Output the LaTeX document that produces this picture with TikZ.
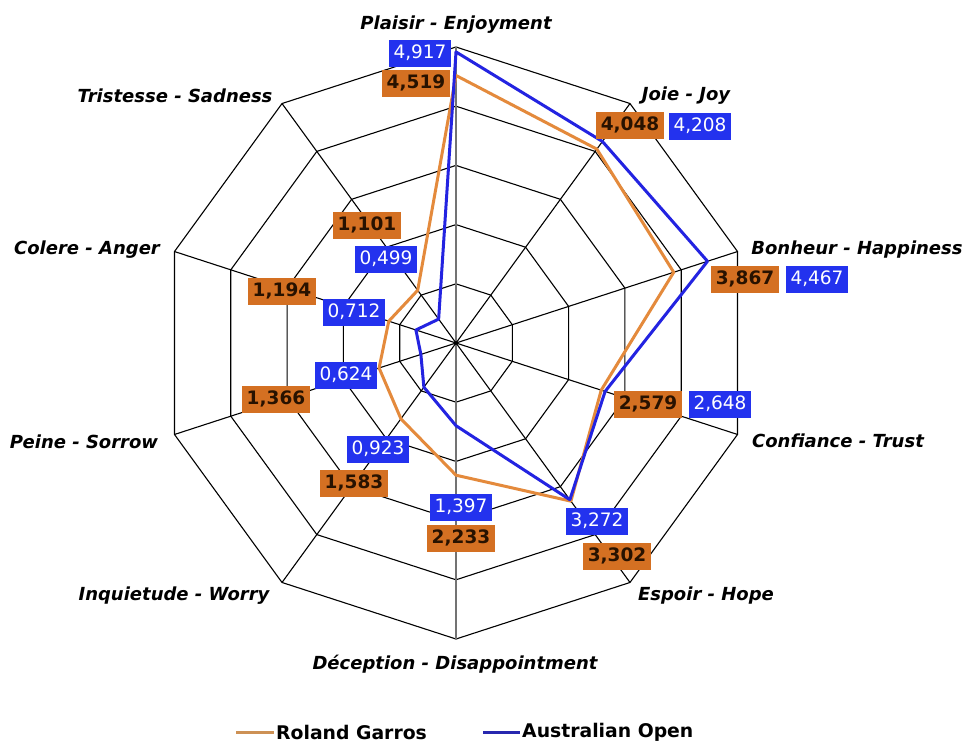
\documentclass[tikz,border=0pt]{standalone}
\usepackage{fontspec}
\setmainfont{DejaVu Sans}
\definecolor{rgline}{RGB}{228,138,60}
\definecolor{aoline}{RGB}{35,35,225}
\definecolor{rgfill}{RGB}{212,112,34}
\definecolor{aofill}{RGB}{35,50,238}
\definecolor{rgtext}{RGB}{40,18,0}
\definecolor{rglegend}{RGB}{205,145,85}
\definecolor{aolegend}{RGB}{40,40,175}
\tikzset{
  gridline/.style={black, line width=1.1pt},
  midaxis/.style={black!55, line width=1.8pt},
  rgseries/.style={rgline, line width=3pt, line join=round},
  aoseries/.style={aoline, line width=3pt, line join=round},
  catlabel/.style={font=\fontsize{18}{20}\selectfont\bfseries\itshape, inner sep=0pt},
  rgbox/.style={fill=rgfill, text=rgtext, font=\fontsize{18.5}{20}\selectfont\bfseries,
                minimum height=27pt, inner xsep=4.5pt, inner ysep=0pt},
  aobox/.style={fill=aofill, text=white, font=\fontsize{18.5}{20}\selectfont,
                minimum height=27pt, inner xsep=5pt, inner ysep=0pt},
  legtext/.style={font=\fontsize{18.8}{20}\selectfont\bfseries, inner sep=0pt, anchor=west}
}
\begin{document}
\begin{tikzpicture}[x=1pt,y=-1pt]
\useasboundingbox[fill=white] (0,0) rectangle (963,744);
\coordinate (O) at (456,343);
\begin{scope}[shift={(456,343)}]
  % spokes and rings of the web
  \foreach \k in {0,...,9} {
    \coordinate (ax\k) at (-90+36*\k:296);
  }
  \foreach \r in {1,...,5} {
    \draw[gridline] (-90:\r*59.2)
      \foreach \k in {1,...,9} { -- (-90+36*\k:\r*59.2) } -- cycle;
  }
  \foreach \k in {1,2,3,4,6,7,8,9} {
    \draw[gridline] (O) -- (ax\k);
  }
  \draw[midaxis] (ax0) -- (ax5);
  % series vertices
  \foreach \v [count=\k from 0] in {4.519,4.048,3.867,2.579,3.302,2.233,1.583,1.366,1.194,1.101} {
    \coordinate (rg\k) at (-90+36*\k:\v*59.2);
  }
  \foreach \v [count=\k from 0] in {4.917,4.208,4.467,2.648,3.272,1.397,0.923,0.624,0.712,0.499} {
    \coordinate (ao\k) at (-90+36*\k:\v*59.2);
  }
\end{scope}
\fill (O) circle (2pt);
\draw[rgseries] (rg0) -- (rg1) -- (rg2) -- (rg3) -- (rg4) -- (rg5) -- (rg6) -- (rg7) -- (rg8) -- (rg9) -- cycle;
\draw[aoseries] (ao0) -- (ao1) -- (ao2) -- (ao3) -- (ao4) -- (ao5) -- (ao6) -- (ao7) -- (ao8) -- (ao9) -- cycle;

% category labels
\node[catlabel] (c0) at (456,25) {Plaisir - Enjoyment};
\node[catlabel] (c1) at (686,96) {Joie - Joy};
\node[catlabel] (c2) at (857,250) {Bonheur - Happiness};
\node[catlabel] (c3) at (838,441) {Confiance - Trust};
\node[catlabel] (c4) at (706,596) {Espoir - Hope};
\node[catlabel] (c5) at (455,664) {Déception - Disappointment};
\node[catlabel] (c6) at (174,596) {Inquietude - Worry};
\node[catlabel] (c7) at (84,442) {Peine - Sorrow};
\node[catlabel] (c8) at (87,250) {Colere - Anger};
\node[catlabel] (c9) at (175,96) {Tristesse - Sadness};

% value labels, Roland Garros
\node[rgbox] (v0) at (416,83) {4,519};
\node[rgbox] (v1) at (630,125) {4,048};
\node[rgbox] (v2) at (745,279) {3,867};
\node[rgbox] (v3) at (648,404) {2,579};
\node[rgbox] (v4) at (617,556) {3,302};
\node[rgbox] (v5) at (461,538) {2,233};
\node[rgbox] (v6) at (354,483) {1,583};
\node[rgbox] (v7) at (276,399) {1,366};
\node[rgbox] (v8) at (282,291) {1,194};
\node[rgbox] (v9) at (367,225) {1,101};

% value labels, Australian Open
\node[aobox] (w0) at (420,53) {4,917};
\node[aobox] (w1) at (700,126) {4,208};
\node[aobox] (w2) at (817,279) {4,467};
\node[aobox] (w3) at (720,404) {2,648};
\node[aobox] (w4) at (597,521) {3,272};
\node[aobox] (w5) at (461,507) {1,397};
\node[aobox] (w6) at (378,449) {0,923};
\node[aobox] (w7) at (346,375) {0,624};
\node[aobox] (w8) at (354,312) {0,712};
\node[aobox] (w9) at (386,259) {0,499};

% legend
\coordinate (l1a) at (236,732);
\coordinate (l1b) at (274,732);
\coordinate (l2a) at (483,732);
\coordinate (l2b) at (520,732);
\draw[rglegend, line width=3pt] (l1a) -- (l1b);
\draw[aolegend, line width=3pt] (l2a) -- (l2b);
\node[legtext] (t1) at (276,732) {Roland Garros};
\node[legtext] (t2) at (522,732) {Australian Open};
\end{tikzpicture}
\end{document}
